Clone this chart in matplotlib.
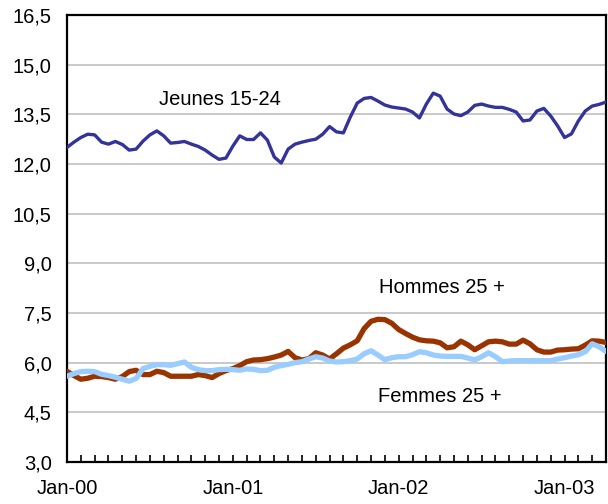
import numpy as np
import matplotlib
matplotlib.use("Agg")
import matplotlib.pyplot as plt

# half-month readings, Jan-00 .. Apr-03 (x in months from Jan-00)
jeunes = [12.50, 12.66, 12.80, 12.90, 12.88, 12.66, 12.60, 12.68, 12.59, 12.42,
          12.45, 12.69, 12.88, 13.00, 12.85, 12.63, 12.65, 12.68, 12.60, 12.53,
          12.42, 12.27, 12.14, 12.18, 12.54, 12.85, 12.74, 12.74, 12.94, 12.72,
          12.21, 12.03, 12.45, 12.60, 12.66, 12.71, 12.75, 12.90, 13.13, 12.97,
          12.94, 13.42, 13.84, 13.98, 14.01, 13.90, 13.78, 13.72, 13.69, 13.66,
          13.57, 13.39, 13.81, 14.14, 14.05, 13.66, 13.51, 13.46, 13.57, 13.77,
          13.81, 13.75, 13.71, 13.71, 13.65, 13.57, 13.30, 13.33, 13.60, 13.68,
          13.45, 13.15, 12.80, 12.91, 13.30, 13.60, 13.75, 13.80, 13.87]
hommes = [5.74, 5.61, 5.50, 5.53, 5.59, 5.58, 5.55, 5.50, 5.58, 5.73,
          5.77, 5.64, 5.64, 5.74, 5.70, 5.59, 5.59, 5.59, 5.59, 5.64,
          5.61, 5.55, 5.67, 5.76, 5.82, 5.91, 6.03, 6.08, 6.09, 6.12,
          6.17, 6.23, 6.34, 6.15, 6.08, 6.12, 6.30, 6.23, 6.11, 6.27,
          6.44, 6.54, 6.66, 7.03, 7.25, 7.31, 7.30, 7.19, 7.00, 6.88,
          6.77, 6.69, 6.66, 6.65, 6.60, 6.45, 6.48, 6.65, 6.54, 6.39,
          6.51, 6.63, 6.65, 6.63, 6.56, 6.56, 6.68, 6.57, 6.39, 6.32,
          6.32, 6.38, 6.39, 6.41, 6.42, 6.53, 6.66, 6.65, 6.61]
femmes = [5.59, 5.67, 5.73, 5.74, 5.73, 5.65, 5.61, 5.56, 5.50, 5.44,
          5.52, 5.82, 5.89, 5.94, 5.94, 5.92, 5.97, 6.02, 5.86, 5.79,
          5.76, 5.76, 5.79, 5.80, 5.79, 5.77, 5.81, 5.80, 5.76, 5.77,
          5.86, 5.91, 5.95, 6.00, 6.03, 6.11, 6.18, 6.14, 6.05, 6.02,
          6.03, 6.06, 6.11, 6.27, 6.36, 6.23, 6.09, 6.15, 6.18, 6.18,
          6.24, 6.33, 6.30, 6.23, 6.20, 6.19, 6.19, 6.19, 6.14, 6.08,
          6.18, 6.30, 6.18, 6.03, 6.05, 6.06, 6.06, 6.06, 6.06, 6.06,
          6.06, 6.11, 6.15, 6.20, 6.24, 6.33, 6.57, 6.48, 6.34]
x = np.arange(len(jeunes)) * 0.5

xtick_pos = [0, 12, 24, 36]
xtick_labels = ['Jan-00', 'Jan-01', 'Jan-02', 'Jan-03']
yticks = [3.0, 4.5, 6.0, 7.5, 9.0, 10.5, 12.0, 13.5, 15.0, 16.5]

plt.rcParams['font.family'] = ['Liberation Sans', 'DejaVu Sans']

fig = plt.figure(figsize=(6.08, 5.04), dpi=100)
ax = fig.add_axes([67/608, 1-462/504, (606-67)/608, (462-15)/504])

for y in yticks[1:-1]:
    ax.axhline(y, color='#c0c0c0', lw=1.2, zorder=1)

ax.plot(x, jeunes, color='#333399', lw=2.4, solid_joinstyle='round', solid_capstyle='round', zorder=3)
ax.plot(x, hommes, color='#993300', lw=3.8, solid_joinstyle='round', solid_capstyle='round', zorder=3)
ax.plot(x, femmes, color='#99ccff', lw=3.8, solid_joinstyle='round', solid_capstyle='round', zorder=4)

ax.text(11.1, 13.96, 'Jeunes 15-24', ha='center', va='center', fontsize=14.5)
ax.text(27.1, 8.27, 'Hommes 25 +', ha='center', va='center', fontsize=14.5)
ax.text(27.0, 4.97, 'Femmes 25 +', ha='center', va='center', fontsize=14.5)

ax.set_xlim(0, 39)
ax.set_ylim(3.0, 16.5)
ax.set_yticks(yticks)
ax.set_yticklabels([('%.1f' % v).replace('.', ',') for v in yticks])
ax.set_xticks(xtick_pos)
ax.set_xticklabels(xtick_labels)
ax.set_xticks(range(0, 40), minor=True)
ax.tick_params(axis='y', length=0, pad=11, labelsize=14.5)
ax.tick_params(axis='x', which='both', direction='in', length=5, width=1.2, pad=12, labelsize=14.5)

for s in ax.spines.values():
    s.set_linewidth(1.6)
    s.set_color('black')

fig.savefig('out.png', dpi=100)
